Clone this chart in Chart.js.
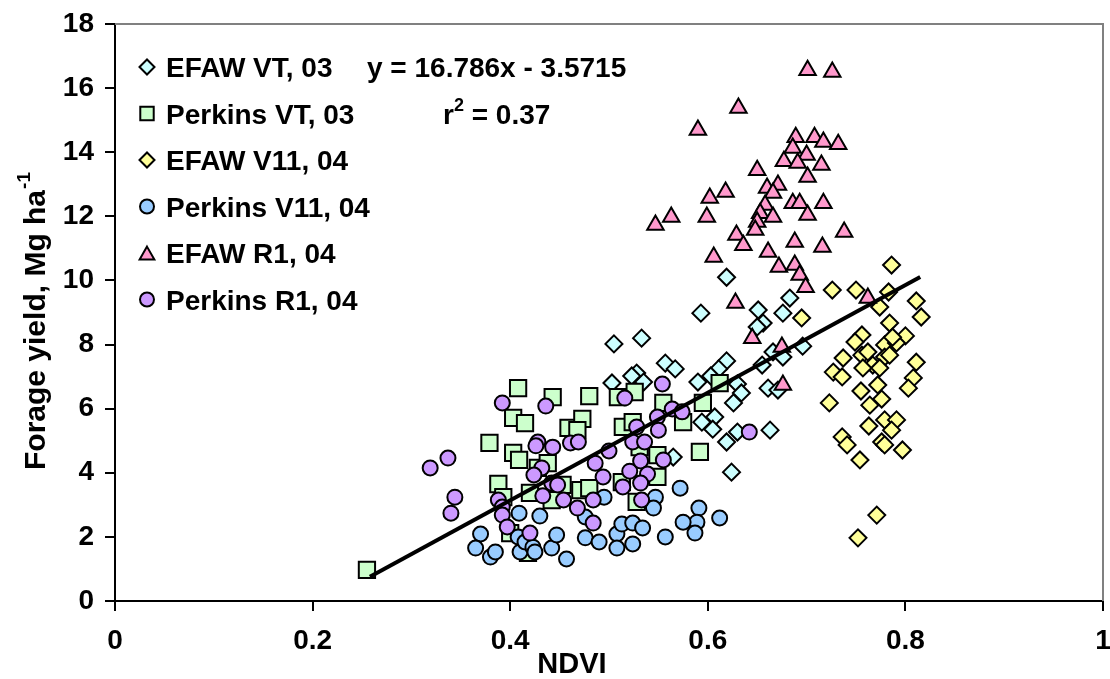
<!DOCTYPE html>
<html><head><meta charset="utf-8">
<script src="https://cdn.jsdelivr.net/npm/chart.js@4.4.1/dist/chart.umd.min.js"></script>
<style>html,body{margin:0;padding:0;background:#fff;}#wrap{position:relative;width:1110px;height:679px;}</style>
</head><body><div id="wrap"><canvas id="c" width="1110" height="679"></canvas></div>
<script>
const FONT = "'Liberation Sans', Arial, Helvetica, sans-serif";

// ---- data (NDVI, forage yield Mg/ha) ----
const seriesNames = ['EFAW VT, 03','Perkins VT, 03','EFAW V11, 04','Perkins V11, 04','EFAW R1, 04','Perkins R1, 04'];

const efawVT03_x = [0.619,0.593,0.505,0.533,0.557,0.567,0.528,0.523,0.535,0.503,0.590,0.619,0.611,0.603,0.683,0.651,0.676,0.656,0.650,0.696,0.666,0.676,0.655,0.630,0.634,0.626,0.661,0.671,0.630,0.663,0.624,0.594,0.607,0.605,0.619,0.565];
const efawVT03_y = [10.10,8.98,8.02,8.20,7.42,7.24,7.11,7.02,6.83,6.80,6.83,7.49,7.24,7.02,9.45,9.08,8.98,8.67,8.55,7.95,7.77,7.61,7.36,6.77,6.49,6.18,6.64,6.58,5.27,5.33,4.02,5.58,5.74,5.36,4.96,4.49];

const perkinsVT03_x = [0.255,0.408,0.443,0.480,0.403,0.415,0.379,0.403,0.409,0.459,0.473,0.468,0.428,0.438,0.388,0.393,0.420,0.453,0.471,0.480,0.509,0.514,0.400,0.418,0.442,0.526,0.555,0.595,0.612,0.575,0.524,0.531,0.549,0.592,0.513,0.549,0.528];
const perkinsVT03_y = [0.97,6.64,6.36,6.39,5.71,5.55,4.93,4.62,4.40,5.40,5.68,5.33,4.15,4.30,3.65,3.24,3.37,3.62,3.46,3.52,6.36,5.43,2.12,1.50,3.15,6.52,6.18,6.18,6.80,5.58,5.58,4.80,4.55,4.65,3.71,3.87,3.09];

const efawV1104_x = [0.786,0.726,0.750,0.783,0.774,0.811,0.816,0.695,0.784,0.800,0.756,0.749,0.779,0.791,0.787,0.737,0.756,0.762,0.767,0.779,0.784,0.774,0.757,0.811,0.727,0.736,0.808,0.772,0.803,0.755,0.776,0.764,0.723,0.779,0.791,0.786,0.763,0.736,0.741,0.776,0.779,0.797,0.754,0.771,0.752];
const efawV1104_y = [10.48,9.70,9.70,9.64,9.17,9.36,8.86,8.83,8.67,8.27,8.30,8.08,7.99,8.05,8.23,7.58,7.67,7.77,7.36,7.61,7.67,7.27,7.27,7.45,7.14,6.99,6.96,6.74,6.64,6.55,6.30,6.11,6.18,5.65,5.65,5.33,5.46,5.12,4.87,4.96,4.87,4.71,4.40,2.68,1.97];

const perkinsV1104_x = [0.370,0.365,0.409,0.430,0.380,0.385,0.410,0.408,0.415,0.423,0.425,0.442,0.447,0.457,0.476,0.495,0.476,0.490,0.508,0.508,0.513,0.524,0.524,0.534,0.557,0.547,0.545,0.572,0.591,0.589,0.575,0.587,0.612];
const perkinsV1104_y = [2.09,1.65,2.74,2.65,1.37,1.53,1.53,2.00,1.84,1.68,1.53,1.65,2.06,1.31,2.62,3.24,1.97,1.84,2.09,1.65,2.40,2.43,1.78,2.28,2.00,3.24,2.90,3.52,2.90,2.46,2.46,2.12,2.59];

const efawR104_x = [0.701,0.726,0.631,0.590,0.689,0.708,0.717,0.732,0.686,0.700,0.677,0.691,0.715,0.701,0.650,0.660,0.671,0.666,0.602,0.618,0.658,0.653,0.666,0.650,0.648,0.686,0.693,0.717,0.701,0.563,0.547,0.599,0.629,0.636,0.738,0.688,0.716,0.661,0.606,0.672,0.688,0.693,0.699,0.628,0.645,0.675,0.762,0.676];
const efawR104_y = [16.56,16.50,15.38,14.69,14.47,14.47,14.32,14.25,14.13,13.91,13.72,13.66,13.60,13.23,13.44,12.88,12.98,12.73,12.57,12.76,12.35,12.10,11.98,11.82,11.57,12.41,12.41,12.41,12.04,11.98,11.73,11.98,11.42,11.10,11.51,11.20,11.04,10.89,10.73,10.42,10.48,10.17,9.79,9.30,8.20,7.92,9.45,6.74];

const perkinsR104_x = [0.319,0.337,0.344,0.340,0.392,0.436,0.428,0.443,0.461,0.469,0.432,0.424,0.442,0.448,0.433,0.454,0.468,0.388,0.392,0.392,0.397,0.420,0.484,0.486,0.494,0.484,0.500,0.516,0.521,0.514,0.554,0.564,0.574,0.549,0.528,0.550,0.524,0.536,0.555,0.532,0.539,0.532,0.533,0.642,0.426];
const perkinsR104_y = [4.15,4.46,3.24,2.74,6.18,6.08,4.96,4.80,4.93,4.96,4.15,3.93,3.68,3.62,3.28,3.15,2.90,3.15,2.93,2.68,2.31,2.12,3.15,4.30,3.87,2.43,4.68,6.33,4.05,3.56,6.77,5.99,5.90,5.74,5.43,5.33,4.96,4.96,4.40,4.37,3.96,3.68,3.15,5.27,4.84];

// regression line end points
const trendX = [0.258, 0.815];
const trendY = [0.76, 10.11];

const equationText = 'y = 16.786x - 3.5715';
const r2Text = '0.37';

const xTicks = [0, 0.2, 0.4, 0.6, 0.8, 1];
const yTicks = [0, 2, 4, 6, 8, 10, 12, 14, 16, 18];

// ---- styles ----
const seriesStyles = [
  {style:'rectRot',  bg:'#CCFFFF', r:8.5, lr:7.5},
  {style:'rect',     bg:'#CCFFCC', r:11.5, lr:9.5},
  {style:'rectRot',  bg:'#FFFF99', r:8.5, lr:7.5},
  {style:'circle',   bg:'#99CCFF', r:7.5, lr:7},
  {style:'triangle', bg:'#FF99CC', r:9.5, lr:8.5},
  {style:'circle',   bg:'#CC99FF', r:7.5, lr:7}
];
const seriesX = [efawVT03_x, perkinsVT03_x, efawV1104_x, perkinsV1104_x, efawR104_x, perkinsR104_x];
const seriesY = [efawVT03_y, perkinsVT03_y, efawV1104_y, perkinsV1104_y, efawR104_y, perkinsR104_y];

function pts(xs, ys){ return xs.map((x,i)=>({x:x, y:ys[i]})); }

const datasets = seriesNames.map((name,i)=>({
  label: name,
  data: pts(seriesX[i], seriesY[i]),
  pointStyle: seriesStyles[i].style,
  backgroundColor: seriesStyles[i].bg,
  borderColor: '#000',
  borderWidth: 2,
  pointRadius: seriesStyles[i].r,
  pointHoverRadius: seriesStyles[i].r,
  showLine: false,
  clip: false,
  order: 6 - i
}));
datasets.push({
  type: 'line',
  label: 'trend',
  data: pts(trendX, trendY),
  borderColor: '#000',
  borderWidth: 4,
  pointRadius: 0,
  fill: false,
  order: 0
});

function marker(ctx, style, x, y, r){
  ctx.beginPath();
  if(style==='circle'){ ctx.arc(x,y,r,0,Math.PI*2); }
  else if(style==='rect'){ const s=r*Math.SQRT1_2; ctx.rect(x-s,y-s,2*s,2*s); }
  else if(style==='rectRot'){ ctx.moveTo(x-r,y); ctx.lineTo(x,y-r); ctx.lineTo(x+r,y); ctx.lineTo(x,y+r); ctx.closePath(); }
  else if(style==='triangle'){ const yc=y+r/4; ctx.moveTo(x,yc-r); ctx.lineTo(x+r*0.866,yc+r/2); ctx.lineTo(x-r*0.866,yc+r/2); ctx.closePath(); }
  ctx.fill(); ctx.stroke();
}

const overlay = {
  id: 'overlay',
  afterDraw(chart){
    const ctx = chart.ctx, a = chart.chartArea;
    ctx.save();
    // grey frame on top and right
    ctx.strokeStyle = '#808080'; ctx.lineWidth = 2;
    ctx.beginPath(); ctx.moveTo(a.left, a.top); ctx.lineTo(a.right, a.top); ctx.lineTo(a.right, a.bottom); ctx.stroke();

    // legend
    const rowY = [67, 113.5, 160, 206.5, 253, 299.5];
    ctx.font = 'bold 28px ' + FONT;
    ctx.textBaseline = 'alphabetic';
    ctx.textAlign = 'left';
    seriesNames.forEach((name,i)=>{
      const st = seriesStyles[i];
      ctx.fillStyle = st.bg; ctx.strokeStyle = '#000'; ctx.lineWidth = 2;
      marker(ctx, st.style, 147, rowY[i], st.lr);
      ctx.fillStyle = '#000';
      ctx.fillText(name, 166, rowY[i] + 10);
    });

    // equation and r2
    ctx.fillStyle = '#000';
    ctx.font = 'bold 28px ' + FONT;
    ctx.fillText(equationText, 367, 67 + 10);
    let x = 443;
    ctx.fillText('r', x, 113.5 + 10);
    x += ctx.measureText('r').width;
    ctx.font = 'bold 18px ' + FONT;
    ctx.fillText('2', x, 113.5 - 3);
    x += ctx.measureText('2').width;
    ctx.font = 'bold 28px ' + FONT;
    ctx.fillText(' = ' + r2Text, x, 113.5 + 10);

    // x title
    ctx.textAlign = 'center';
    ctx.font = 'bold 29px ' + FONT;
    ctx.fillText('NDVI', 572, 663 + 10.4);

    // y title
    ctx.translate(34, 470);
    ctx.rotate(-Math.PI/2);
    ctx.textAlign = 'left';
    ctx.font = 'bold 30px ' + FONT;
    const t = 'Forage yield, Mg ha';
    ctx.fillText(t, 0, 10.7);
    const w = ctx.measureText(t).width;
    ctx.font = 'bold 19px ' + FONT;
    ctx.fillText('-1', w + 1, -4);
    ctx.restore();
  }
};

new Chart(document.getElementById('c'), {
  type: 'scatter',
  data: { datasets: datasets },
  options: {
    responsive: false,
    animation: false,
    events: [],
    layout: { autoPadding: false, padding: { left: 0, right: 7, top: 24, bottom: 0 } },
    plugins: { legend: { display: false }, tooltip: { enabled: false } },
    scales: {
      x: {
        type: 'linear', min: 0, max: 1,
        afterBuildTicks: s => { s.ticks = xTicks.map(v=>({value:v})); },
        ticks: { color:'#000', font:{ family: FONT, size: 28, weight: 'bold' }, padding: 13, maxRotation: 0,
                 callback: v => String(Math.round(v*10)/10) },
        grid: { drawOnChartArea: false, drawTicks: true, tickLength: 10, color: '#000', lineWidth: 2 },
        border: { color: '#000', width: 2 },
        afterFit: s => { s.height = 78; s.paddingLeft = 0; s.paddingRight = 0; }
      },
      y: {
        type: 'linear', min: 0, max: 18,
        afterBuildTicks: s => { s.ticks = yTicks.map(v=>({value:v})); },
        ticks: { color:'#000', font:{ family: FONT, size: 28, weight: 'bold' }, padding: 11 },
        grid: { drawOnChartArea: false, drawTicks: true, tickLength: 10, color: '#000', lineWidth: 2 },
        border: { color: '#000', width: 2 },
        afterFit: s => { s.width = 115; s.paddingTop = 0; s.paddingBottom = 0; }
      }
    }
  },
  plugins: [overlay]
});
</script>
</body></html>
